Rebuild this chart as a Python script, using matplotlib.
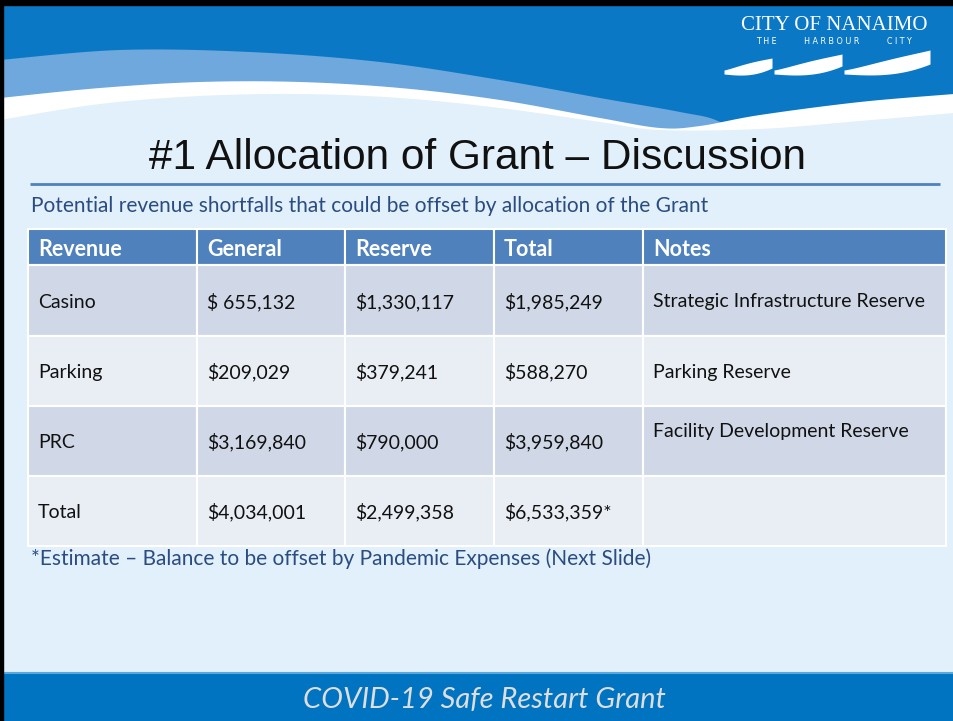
import numpy as np
import matplotlib
matplotlib.use("Agg")
import matplotlib.pyplot as plt
from matplotlib.patches import Rectangle, Polygon

# ---------------- data ----------------
headers = ["Revenue", "General", "Reserve", "Total", "Notes"]
revenue = ["Casino", "Parking", "PRC", "Total"]
general = ["$ 655,132", "$209,029", "$3,169,840", "$4,034,001"]
reserve = ["$1,330,117", "$379,241", "$790,000", "$2,499,358"]
total = ["$1,985,249", "$588,270", "$3,959,840", "$6,533,359*"]
notes = ["Strategic Infrastructure Reserve", "Parking Reserve",
         "Facility Development Reserve", ""]

title = "#1 Allocation of Grant \u2013 Discussion"
subtitle = "Potential revenue shortfalls that could be offset by allocation of the Grant"
footnote = "*Estimate \u2013 Balance to be offset by Pandemic Expenses (Next Slide)"
footer = "COVID-19 Safe Restart Grant"

# ---------------- layout ----------------
W, H = 954, 721
fig = plt.figure(figsize=(W / 100, H / 100), dpi=100)
ax = fig.add_axes([0, 0, 1, 1])
ax.set_xlim(0, W)
ax.set_ylim(H, 0)
ax.axis("off")

BG = "#e1f0fa"
DARK = "#0b78c6"
MED = "#6ea8dd"
TXT_BLUE = "#2a4c80"

ax.add_patch(Rectangle((0, 0), W, H, color=BG, zorder=0))


def catmull(pts, n=30):
    pts = np.asarray(pts, float)
    P = np.vstack([pts[0], pts, pts[-1]])
    out = []
    for i in range(1, len(P) - 2):
        p0, p1, p2, p3 = P[i - 1], P[i], P[i + 1], P[i + 2]
        t = np.linspace(0, 1, n)[:, None]
        out.append(0.5 * ((2 * p1) + (-p0 + p2) * t + (2 * p0 - 5 * p1 + 4 * p2 - p3) * t ** 2
                          + (-p0 + 3 * p1 - 3 * p2 + p3) * t ** 3))
    return np.vstack(out)


def region_below(curve_pts, color, bottom=175, z=1):
    c = catmull(curve_pts)
    poly = np.vstack([[[-5, c[0, 1]]], c, [[W + 5, c[-1, 1]], [W + 5, bottom], [-5, bottom]]])
    ax.add_patch(Polygon(poly, closed=True, facecolor=color, edgecolor="none", zorder=z))


# header waves
ax.add_patch(Rectangle((0, 0), W, 150, color=DARK, zorder=1))
m_top = [(0, 60), (120, 50), (250, 52), (380, 62), (500, 80), (600, 98), (680, 112),
         (720, 122), (760, 150), (954, 150)]
w_top = [(0, 98), (100, 88), (200, 82), (300, 82), (400, 88), (500, 100), (600, 118),
         (660, 128), (700, 126), (760, 115), (860, 102), (954, 94)]
l_top = [(0, 120), (100, 104), (200, 96), (300, 94), (400, 98), (500, 108), (600, 122),
         (660, 130), (760, 129), (860, 121), (954, 113)]
region_below(m_top, MED, z=2)
region_below(w_top, "white", z=3)
region_below(l_top, BG, z=4)

# logo
ax.text(834, 25, "CITY OF NANAIMO", family="Liberation Serif", fontsize=15,
        color="white", ha="center", va="center", zorder=6)
ax.text(834, 41, "T H E           H A R B O U R           C I T Y", family="DejaVu Sans",
        fontsize=5.8, color="white", ha="center", va="center", zorder=6)
for a, b, h in [(724, 772, 12), (774, 842, 16), (844, 930, 20)]:
    xs = np.linspace(a, b, 80)
    t = (xs - a) / (b - a)
    top = 70 - h * t ** 1.3 - 2 * np.sin(np.pi * t)
    bot = 74 - h * 0.5 * t ** 3 + 1.5 * np.sin(np.pi * t)
    ax.fill_between(xs, top, np.maximum(bot, top), color="white", lw=0, zorder=6)

# black slide borders
ax.add_patch(Rectangle((0, 0), W, 5, color="black", zorder=9))
ax.add_patch(Rectangle((0, 0), 3.5, H, color="black", zorder=9))

# title
ax.text(478, 158, title, family="Liberation Sans", fontsize=30.5, color="#111111",
        ha="center", va="center", zorder=6)
ax.plot([30, 940], [183.5, 183.5], color="#4f81bd", lw=2, zorder=6, solid_capstyle="butt")
ax.text(31, 206, subtitle, family="Lato", fontsize=15, color=TXT_BLUE,
        ha="left", va="center", zorder=6)

# table
col_edges = [28, 197, 345, 494, 643, 946]
row_edges = [229, 265, 336, 406, 476, 546]
HEAD = "#4f81bd"
ROWC = ["#d0d8e8", "#e9edf4"]
columns = [revenue, general, reserve, total, notes]
note_offset = [0, 0, -11, 0]

for j in range(5):
    x0, x1 = col_edges[j], col_edges[j + 1]
    ax.add_patch(Rectangle((x0, row_edges[0]), x1 - x0, row_edges[1] - row_edges[0],
                           facecolor=HEAD, edgecolor="white", lw=1.5, zorder=5))
    ax.text(x0 + 10, (row_edges[0] + row_edges[1]) / 2 + 2.5, headers[j], family="Lato",
            fontweight="bold", fontsize=15.5, color="white", ha="left", va="center", zorder=6)
    for i in range(len(revenue)):
        y0, y1 = row_edges[i + 1], row_edges[i + 2]
        ax.add_patch(Rectangle((x0, y0), x1 - x0, y1 - y0, facecolor=ROWC[i % 2],
                               edgecolor="white", lw=1.5, zorder=5))
        yc = (y0 + y1) / 2 + 1.5
        if j == 4:
            yc += note_offset[i]
        ax.text(x0 + 10, yc, columns[j][i], family="Lato", fontsize=14,
                color="#111111", ha="left", va="center", zorder=6)

ax.text(31, 559, footnote, family="Lato", fontsize=15, color=TXT_BLUE,
        ha="left", va="center", zorder=6)

# footer
ax.add_patch(Rectangle((0, 673), W, H - 673, color="#0074c0", zorder=5))
ax.plot([0, W], [673, 673], color="#5aa9de", lw=1.5, zorder=6)
ax.text(484, 700, footer, family="Lato", style="italic", fontsize=21, color="#dedede",
        ha="center", va="center", zorder=7)

fig.savefig("out.png", dpi=100)
